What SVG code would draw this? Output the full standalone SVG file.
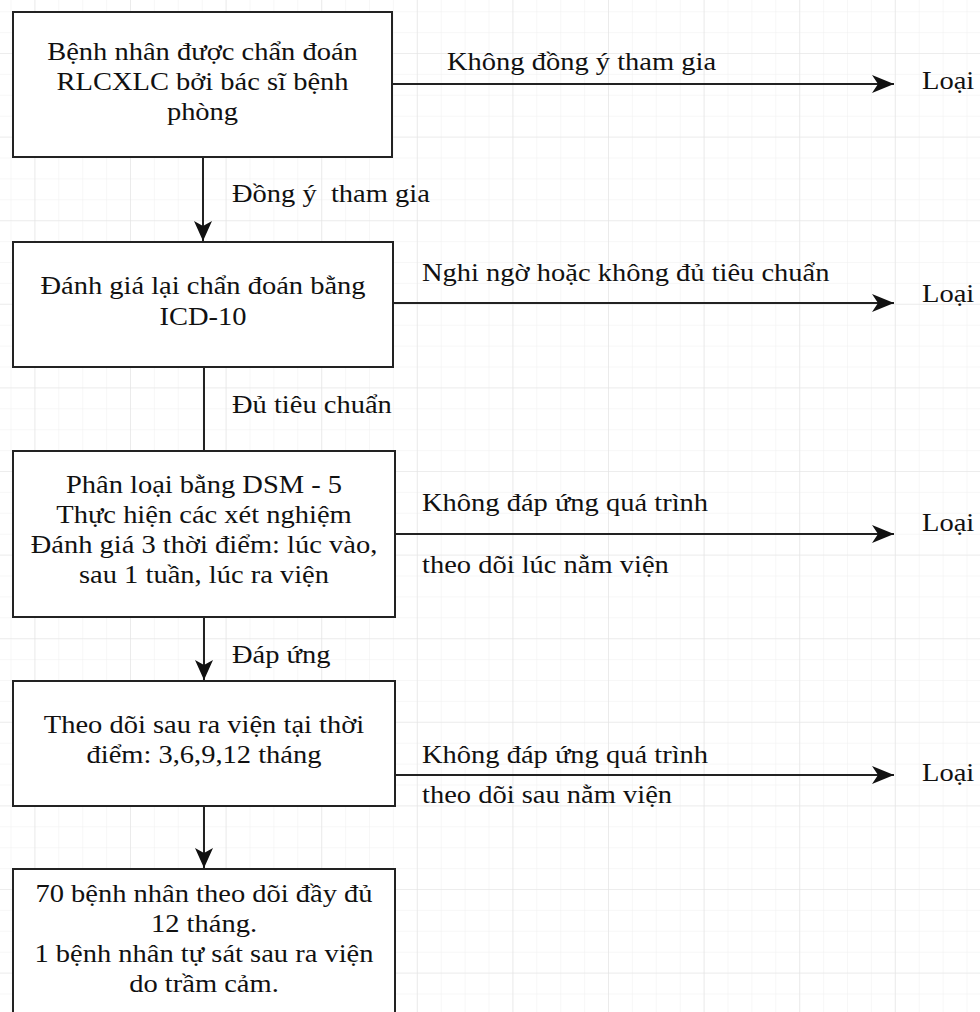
<svg xmlns="http://www.w3.org/2000/svg" width="980" height="1012" viewBox="0 0 980 1012">
<defs>
  <pattern id="minor" x="34.4" y="53" width="23.9" height="20.9" patternUnits="userSpaceOnUse">
    <path d="M0,0 V20.9 M0,0 H23.9" fill="none" stroke="#efefef" stroke-width="1"/>
  </pattern>
  <pattern id="major" x="34.4" y="53" width="95.6" height="83.6" patternUnits="userSpaceOnUse">
    <path d="M0,0 V83.6 M0,0 H95.6" fill="none" stroke="#e3e3e3" stroke-width="1.2"/>
  </pattern>
  <marker id="arr" viewBox="0 0 20 18" refX="20" refY="9" markerWidth="20" markerHeight="18" markerUnits="userSpaceOnUse" orient="auto">
    <path d="M0,0 L20,9 L0,18 L5,9 Z" fill="#111"/>
  </marker>
  <marker id="arrh" viewBox="0 0 22 18" refX="22" refY="9" markerWidth="22" markerHeight="18" markerUnits="userSpaceOnUse" orient="auto">
    <path d="M0,0 L22,9 L0,18 L6,9 Z" fill="#111"/>
  </marker>
</defs>
<style>
  .box { fill: #ffffff; stroke: #222; stroke-width: 2; }
  .ln { fill: none; stroke: #222; stroke-width: 2; }
  .t text { font-family: 'Liberation Serif', 'DejaVu Serif', serif; font-size: 25px; fill: #111; }
  .c { text-anchor: middle; }
</style>
<rect width="980" height="1012" fill="#ffffff"/>
<rect width="980" height="1012" fill="url(#minor)"/>
<rect width="980" height="1012" fill="url(#major)"/>

<g class="t" font-family="Liberation Serif, serif" font-size="25" fill="#111">
<g id="connectors">
  <path class="ln" d="M203,157 V241" marker-end="url(#arr)"/>
  <path class="ln" d="M204,367 V451"/>
  <path class="ln" d="M204,617 V680" marker-end="url(#arr)"/>
  <path class="ln" d="M204,806 V868" marker-end="url(#arr)"/>
  <path class="ln" d="M392,84 H894" marker-end="url(#arrh)"/>
  <path class="ln" d="M393,303 H894" marker-end="url(#arrh)"/>
  <path class="ln" d="M395,534 H894" marker-end="url(#arrh)"/>
  <path class="ln" d="M395,775 H894" marker-end="url(#arrh)"/>
  <g transform="translate(232,0) scale(1.14,1)">
    <text x="0" y="202" xml:space="preserve">Đồng ý  tham gia</text>
    <text x="0" y="413">Đủ tiêu chuẩn</text>
    <text x="0" y="663">Đáp ứng</text>
  </g>
  <g transform="translate(447,0) scale(1.14,1)">
    <text x="0" y="70">Không đồng ý tham gia</text>
  </g>
  <g transform="translate(422,0) scale(1.14,1)">
    <text x="0" y="281">Nghi ngờ hoặc không đủ tiêu chuẩn</text>
    <text x="0" y="511">Không đáp ứng quá trình</text>
    <text x="0" y="573">theo dõi lúc nằm viện</text>
    <text x="0" y="763">Không đáp ứng quá trình</text>
    <text x="0" y="803">theo dõi sau nằm viện</text>
  </g>
</g>

<g id="loai1" transform="translate(922,0) scale(1.14,1)"><text x="0" y="89">Loại</text></g>
<g id="loai2" transform="translate(922,0) scale(1.14,1)"><text x="0" y="302">Loại</text></g>
<g id="loai3" transform="translate(922,0) scale(1.14,1)"><text x="0" y="531">Loại</text></g>
<g id="loai4" transform="translate(922,0) scale(1.14,1)"><text x="0" y="781">Loại</text></g>

<g id="n1">
  <rect class="box" x="13" y="12" width="379" height="145"/>
  <g transform="translate(202.5,0) scale(1.14,1)">
    <text class="c" x="0" y="60">Bệnh nhân được chẩn đoán</text>
    <text class="c" x="0" y="90">RLCXLC bởi bác sĩ bệnh</text>
    <text class="c" x="0" y="120">phòng</text>
  </g>
</g>
<g id="n2">
  <rect class="box" x="13" y="242" width="380" height="125"/>
  <g transform="translate(203,0) scale(1.14,1)">
    <text class="c" x="0" y="294">Đánh giá lại chẩn đoán bằng</text>
    <text class="c" x="0" y="325">ICD-10</text>
  </g>
</g>
<g id="n3">
  <rect class="box" x="13" y="451" width="382" height="166"/>
  <g transform="translate(204,0) scale(1.14,1)">
    <text class="c" x="0" y="493">Phân loại bằng DSM - 5</text>
    <text class="c" x="0" y="523">Thực hiện các xét nghiệm</text>
    <text class="c" x="0" y="553">Đánh giá 3 thời điểm: lúc vào,</text>
    <text class="c" x="0" y="583">sau 1 tuần, lúc ra viện</text>
  </g>
</g>
<g id="n4">
  <rect class="box" x="13" y="681" width="382" height="125"/>
  <g transform="translate(204,0) scale(1.14,1)">
    <text class="c" x="0" y="733">Theo dõi sau ra viện tại thời</text>
    <text class="c" x="0" y="763">điểm: 3,6,9,12 tháng</text>
  </g>
</g>
<g id="n5">
  <rect class="box" x="13" y="869" width="382" height="200"/>
  <g transform="translate(204,0) scale(1.14,1)">
    <text class="c" x="0" y="902">70 bệnh nhân theo dõi đầy đủ</text>
    <text class="c" x="0" y="932">12 tháng.</text>
    <text class="c" x="0" y="962">1 bệnh nhân tự sát sau ra viện</text>
    <text class="c" x="0" y="992">do trầm cảm.</text>
  </g>
</g>
</g>
</svg>
